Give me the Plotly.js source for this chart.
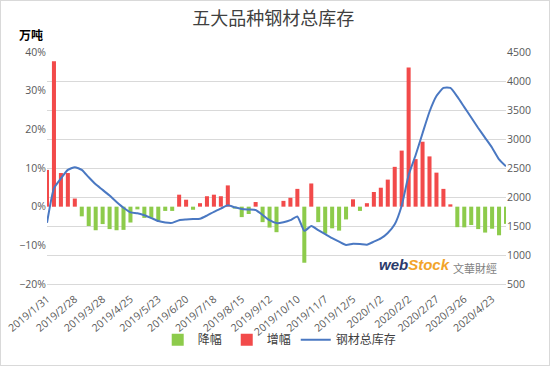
<!DOCTYPE html>
<html><head><meta charset="utf-8">
<script src="https://cdn.plot.ly/plotly-3.0.1.min.js"></script>
<style>
html,body{margin:0;padding:0;background:#fff}
#chart{width:550px;height:366px}
#frame{position:absolute;left:0;top:0;width:550px;height:366px;box-sizing:border-box;border:1px solid #d9d9d9;pointer-events:none}
</style>
</head><body><div id="chart"></div><div id="frame"></div>
<script>
const dates = [
 "2019/1/31","2019/2/7","2019/2/14","2019/2/21","2019/2/28","2019/3/7","2019/3/14","2019/3/21",
 "2019/3/28","2019/4/4","2019/4/11","2019/4/18","2019/4/25","2019/5/2","2019/5/9","2019/5/16",
 "2019/5/23","2019/5/30","2019/6/6","2019/6/13","2019/6/20","2019/6/27","2019/7/4","2019/7/11",
 "2019/7/18","2019/7/25","2019/8/1","2019/8/8","2019/8/15","2019/8/22","2019/8/29","2019/9/5",
 "2019/9/12","2019/9/19","2019/9/26","2019/10/3","2019/10/10","2019/10/17","2019/10/24","2019/10/31",
 "2019/11/7","2019/11/14","2019/11/21","2019/11/28","2019/12/5","2019/12/12","2019/12/19","2019/12/26",
 "2020/1/2","2020/1/9","2020/1/16","2020/1/23","2020/2/2","2020/2/6","2020/2/13","2020/2/20",
 "2020/2/27","2020/3/5","2020/3/12","2020/3/19","2020/3/26","2020/4/2","2020/4/9","2020/4/16",
 "2020/4/23","2020/4/30","2020/5/7"
];
// weekly change of total inventory, %
const changePct = [
 9.5, 37.6, 8.7, 8.7, 2.1, -2.5, -5.0, -6.1,
 -4.5, -5.8, -6.1, -6.0, -4.1, -0.7, -2.9, -2.9,
 -3.6, -1.1, -1.1, 3.1, 1.8, -0.8, 0.9, 2.7,
 3.1, 2.7, 5.5, -0.5, -2.7, -1.9, 1.2, -4.0,
 -5.4, -6.6, 1.5, 2.3, 4.6, -14.5, 6.0, -4.0,
 -7.0, -5.6, -6.2, -3.3, 1.9, -1.1, 0.9, 3.8,
 4.9, 7.0, 10.3, 14.5, 36.0, 12.3, 16.8, 13.0,
 8.8, 4.6, 0.6, -5.3, -5.35, -4.75, -5.8, -6.7,
 -5.7, -7.4, -4.45
];
// total inventory of five major steel products, 10k tonnes
const stock = [
 1554, 2150, 2320, 2467, 2515, 2467, 2340, 2218,
 2123, 2024, 1914, 1814, 1735, 1720, 1685, 1637,
 1585, 1560, 1554, 1600, 1612, 1620, 1625, 1680,
 1745, 1800, 1858, 1822, 1795, 1785, 1776, 1690,
 1600, 1550, 1565, 1600, 1665, 1416, 1500, 1430,
 1360, 1290, 1230, 1172, 1195, 1190, 1178, 1230,
 1285, 1380, 1530, 1850, 2380, 2720, 3100, 3470,
 3740, 3880, 3880, 3730, 3550, 3370, 3190, 3020,
 2850, 2650, 2530
];
const tickLabels = [
 "2019/1/31","2019/2/28","2019/3/28","2019/4/25","2019/5/23","2019/6/20","2019/7/18","2019/8/15",
 "2019/9/12","2019/10/10","2019/11/7","2019/12/5","2020/1/2","2020/2/2","2020/2/27","2020/3/26","2020/4/23"
];
const seriesNames = ["降幅","增幅","钢材总库存"];

const decline = changePct.map(v => v < 0 ? v : null);
const increase = changePct.map(v => v >= 0 ? v : null);

const cjk = '"Noto Sans CJK SC", "Noto Sans", sans-serif';
const tickFont = {family: '"Open Sans", "Noto Sans CJK SC", sans-serif', size: 10.5, color: '#595959'};

const traces = [
 {type:'bar', name:seriesNames[0], x:dates, y:decline, yaxis:'y', width:0.58,
  marker:{color:'#8DCB4B'}, hoverinfo:'skip'},
 {type:'bar', name:seriesNames[1], x:dates, y:increase, yaxis:'y', width:0.58,
  marker:{color:'#F24A4A'}, hoverinfo:'skip'},
 {type:'scatter', mode:'lines', name:seriesNames[2], x:dates, y:stock, yaxis:'y2',
  line:{color:'#4A78C2', width:2, shape:'spline', smoothing:0.5}, hoverinfo:'skip'}
];

const layout = {
 width:550, height:366,
 margin:{l:47, r:44, t:52, b:72},
 paper_bgcolor:'#fff', plot_bgcolor:'rgba(0,0,0,0)',
 font:{family:cjk, size:11, color:'#595959'},
 title:{text:'五大品种钢材总库存', x:0.497, xanchor:'center', y:0.948, yanchor:'middle',
  font:{family:cjk, size:18, color:'#404040'}},
 barmode:'overlay',
 showlegend:true,
 legend:{orientation:'h', x:0.507, xanchor:'center', y:-0.24, yanchor:'middle',
  font:{family:cjk, size:12, color:'#404040'}, itemwidth:30, bgcolor:'rgba(0,0,0,0)'},
 xaxis:{type:'category', range:[0, dates.length-1], tickmode:'array', tickvals:tickLabels, ticktext:tickLabels,
  tickangle:-40, tickfont:tickFont, ticklabelstandoff:4, showgrid:false, zeroline:false,
  showline:true, linecolor:'#D9D9D9', linewidth:1, ticks:'', fixedrange:true},
 yaxis:{range:[-20,40], dtick:10, ticksuffix:'%', tickfont:tickFont, showgrid:false,
  zeroline:false, showline:false, ticks:'', fixedrange:true},
 yaxis2:{overlaying:'y', side:'right', range:[500,4500], dtick:500, tickfont:tickFont,
  showgrid:true, gridcolor:'#D9D9D9', gridwidth:1, zeroline:false, showline:false, ticks:'',
  fixedrange:true},
 annotations:[
  {text:'<b>万吨</b>', xref:'paper', yref:'paper', x:-0.034, y:1.074, xanchor:'center', yanchor:'middle',
   showarrow:false, font:{family:cjk, size:12, color:'#000'}},
  {text:"<b><i><span style='color:#2B3A6B'>web</span><span style='color:#F2A42A'>Stock</span></i></b>",
   xref:'paper', yref:'paper', x:0.80, y:0.083, xanchor:'center', yanchor:'middle',
   showarrow:false, font:{family:'"Liberation Sans", Arial, sans-serif', size:15}},
  {text:'文華財經', xref:'paper', yref:'paper', x:0.932, y:0.07, xanchor:'center', yanchor:'middle',
   showarrow:false, font:{family:'"Noto Sans CJK TC", sans-serif', size:11, color:'#7F7F7F'}}
 ]
};

Plotly.newPlot('chart', traces, layout, {displayModeBar:false, staticPlot:true});
</script>
</body></html>
